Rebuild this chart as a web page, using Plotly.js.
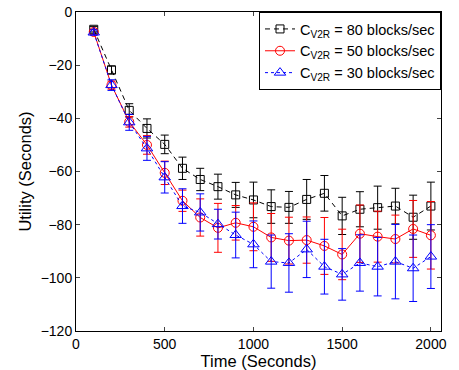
<!DOCTYPE html>
<html>
<head>
<meta charset="utf-8">
<script src="https://cdn.plot.ly/plotly-3.0.1.min.js"></script>
<style>html,body{margin:0;padding:0;background:#fff;}#chart{width:459px;height:370px;}</style>
</head>
<body>
<div id="chart"></div>
<script>
var times = [100,200,300,400,500,600,700,800,900,1000,1100,1200,1300,1400,1500,1600,1700,1800,1900,2000];
var names = ['C<sub>V2R</sub> = 80 blocks/sec','C<sub>V2R</sub> = 50 blocks/sec','C<sub>V2R</sub> = 30 blocks/sec'];
var u80 = [-6.5,-21.8,-37,-43.8,-49.8,-58.8,-63,-65.7,-68.8,-70.7,-73.2,-73.5,-70.5,-68.2,-76.7,-74.2,-73.6,-73,-77.2,-73];
var e80 = [1,1.5,2.5,3.6,3.5,4.2,4.2,4.7,4.7,6.7,6.3,6,7.5,6.7,7,6.6,8.1,6.7,8.3,9];
var u50 = [-7.5,-27.5,-41.3,-50,-60.5,-71,-77.3,-81.2,-79.3,-80.8,-84.8,-86,-85.8,-88,-91.2,-83.4,-84.5,-85.4,-81.6,-84];
var e50 = [1,1.5,2,3.5,4.4,4,7,9.2,6.5,9,9,8.8,8.7,10.7,9.5,10.8,9.6,9,10.7,12.7];
var u30 = [-7.7,-27.5,-41.5,-51.3,-62.2,-73,-75.4,-79.8,-83.9,-87.4,-93.9,-94.4,-89.3,-95.8,-98.7,-94.4,-95.8,-93.9,-96.4,-92];
var e30 = [1,2,3,4.5,5.9,6.5,7,5.6,8.6,8.8,10,11,10.6,10.3,9.7,10.6,11,14,12.5,12];
var xTicks = [0,500,1000,1500,2000];
var yTicks = [0,-20,-40,-60,-80,-100,-120];

function tr(y, e, name, color, dash, symbol, msize) {
  return {
    x: times, y: y, name: name, type: 'scatter', mode: 'lines+markers',
    line: {color: color, width: 1, dash: dash},
    marker: {symbol: symbol, size: msize, color: color, line: {color: color, width: 1}},
    error_y: {type: 'data', array: e, visible: true, color: color, thickness: 1, width: 4}
  };
}
var data = [
  tr(u80, e80, names[0], '#000000', '5px,4px', 'square-open', 8),
  tr(u50, e50, names[1], '#ff0000', 'solid', 'circle-open', 9),
  tr(u30, e30, names[2], '#0000ff', 'dot', 'triangle-up-open', 10)
];
var fam = '"Liberation Sans", Arial, sans-serif';
var layout = {
  width: 459, height: 370,
  margin: {l: 76, r: 18, t: 12, b: 39},
  paper_bgcolor: '#fff', plot_bgcolor: '#fff',
  font: {family: fam, size: 14, color: '#000'},
  showlegend: true,
  legend: {x: 1, xanchor: 'right', y: 1, yanchor: 'top', bgcolor: '#fff', bordercolor: '#000', borderwidth: 1,
           font: {family: fam, size: 14.5, color: '#000'}, tracegroupgap: 0, itemwidth: 30},
  xaxis: {range: [0, 2057], tickvals: xTicks, ticktext: xTicks.map(String), ticks: 'inside', ticklen: 4,
          tickfont: {family: fam, size: 14, color: '#000'},
          showline: true, linecolor: '#000', linewidth: 1, mirror: 'ticks', showgrid: false, zeroline: false,
          title: {text: 'Time (Seconds)', font: {family: fam, size: 16.5, color: '#000'}, standoff: 1}},
  yaxis: {range: [-120, 0], tickvals: yTicks, ticks: 'inside', ticklen: 4,
          tickfont: {family: fam, size: 14, color: '#000'},
          showline: true, linecolor: '#000', linewidth: 1, mirror: 'ticks', showgrid: false, zeroline: false,
          title: {text: 'Utility (Seconds)', font: {family: fam, size: 16.5, color: '#000'}, standoff: 4}}
};
Plotly.newPlot('chart', data, layout, {displayModeBar: false, staticPlot: true});
</script>
</body>
</html>
